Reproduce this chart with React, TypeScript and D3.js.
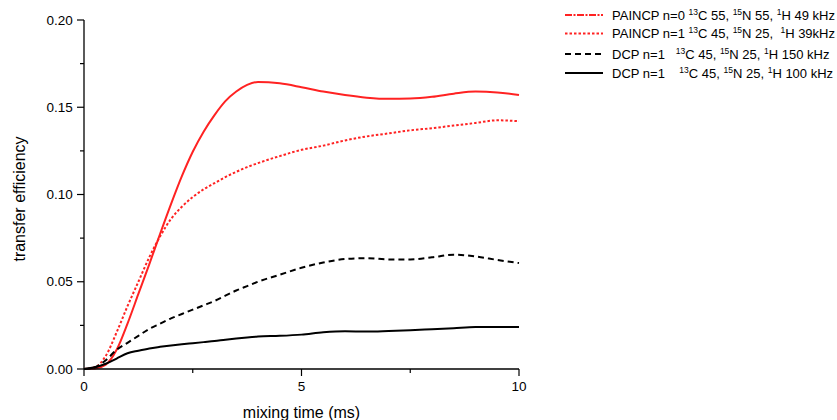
import React from 'react';
import * as d3 from 'd3';

// mixing time grid (ms)
const mixingTime = [0, 0.25, 0.5, 0.75, 1, 1.25, 1.5, 1.75, 2, 2.25, 2.5, 2.75, 3, 3.25, 3.5, 3.75, 4, 4.5, 5, 5.5, 6, 6.5, 7, 7.5, 8, 8.5, 9, 9.5, 10];

const painN0 = [0, 0.0003, 0.0025, 0.011, 0.026, 0.043, 0.06, 0.0775, 0.0945, 0.1105, 0.1245, 0.136, 0.1455, 0.1535, 0.159, 0.1628, 0.1645, 0.1637, 0.1615, 0.159, 0.157, 0.1555, 0.1548, 0.155, 0.156, 0.1578, 0.159, 0.1585, 0.157];
const painN1 = [0, 0.001, 0.0075, 0.021, 0.036, 0.05, 0.064, 0.076, 0.086, 0.093, 0.0985, 0.103, 0.1065, 0.11, 0.113, 0.1157, 0.118, 0.122, 0.1256, 0.128, 0.131, 0.1333, 0.135, 0.1368, 0.138, 0.1395, 0.141, 0.1425, 0.142];
const dcp150 = [0, 0.001, 0.005, 0.011, 0.015, 0.019, 0.023, 0.026, 0.029, 0.0315, 0.034, 0.0365, 0.039, 0.042, 0.045, 0.0475, 0.05, 0.054, 0.058, 0.061, 0.063, 0.0635, 0.0628, 0.0628, 0.064, 0.0655, 0.0645, 0.0625, 0.0607];
const dcp100 = [0, 0.001, 0.003, 0.006, 0.009, 0.0105, 0.0118, 0.0127, 0.0135, 0.0142, 0.0148, 0.0154, 0.016, 0.0168, 0.0175, 0.0181, 0.0186, 0.019, 0.0197, 0.021, 0.0216, 0.0215, 0.0218, 0.0222, 0.0228, 0.0234, 0.024, 0.0241, 0.024];

const xTicks = [0, 5, 10];
const xMinor = [2.5, 7.5];
const yTicks = [0, 0.05, 0.1, 0.15, 0.2];
const yMinor = [0.025, 0.075, 0.125, 0.175];

const RED = '#ff2222';

const series = [
  { values: painN0, color: RED, dash: null, legendDash: '7 1.5 2 1.5',
    label: [['PAINCP n=0 ', false], ['13', true], ['C 55, ', false], ['15', true], ['N 55, ', false], ['1', true], ['H 49 kHz', false]] },
  { values: painN1, color: RED, dash: '2.5 2', legendDash: '2.5 2',
    label: [['PAINCP n=1 ', false], ['13', true], ['C 45, ', false], ['15', true], ['N 25,  ', false], ['1', true], ['H 39kHz', false]] },
  { values: dcp150, color: '#000', dash: '6 4', legendDash: '6 4',
    label: [['DCP n=1   ', false], ['13', true], ['C 45, ', false], ['15', true], ['N 25, ', false], ['1', true], ['H 150 kHz', false]] },
  { values: dcp100, color: '#000', dash: null, legendDash: null,
    label: [['DCP n=1    ', false], ['13', true], ['C 45, ', false], ['15', true], ['N 25, ', false], ['1', true], ['H 100 kHz', false]] },
];

export default function App() {
  const width = 837;
  const height = 420;
  const x0 = 84, x1 = 519, yTop = 20, yBot = 369;

  const xScale = d3.scaleLinear().domain([0, 10]).range([x0, x1]);
  const yScale = d3.scaleLinear().domain([0, 0.2]).range([yBot, yTop]);

  const line = d3.line<number>()
    .x((d, i) => xScale(mixingTime[i]))
    .y(d => yScale(d))
    .curve(d3.curveMonotoneX);

  const font = 'Liberation Sans, Arial, sans-serif';

  return (
    <svg width={width} height={height} style={{ position: 'absolute', left: 0, top: 0 }} fontFamily={font}>
      <rect width={width} height={height} fill="#fff" />

      {/* curves */}
      {series.map((s, i) => (
        <path key={i} d={line(s.values) || ''} fill="none" stroke={s.color}
          strokeWidth={2} strokeDasharray={s.dash || undefined} />
      ))}

      {/* axes */}
      <line x1={x0} x2={x0} y1={yTop} y2={yBot} stroke="#000" strokeWidth={1.3} />
      <line x1={x0} x2={x1} y1={yBot} y2={yBot} stroke="#000" strokeWidth={1.3} />
      {yTicks.map(t => (
        <g key={'y' + t}>
          <line x1={x0 - 7} x2={x0} y1={yScale(t)} y2={yScale(t)} stroke="#000" strokeWidth={1.2} />
          <text x={x0 - 11.3} y={yScale(t)} dy="0.35em" textAnchor="end" fontSize={13.5}>{t.toFixed(2)}</text>
        </g>
      ))}
      {yMinor.map(t => (
        <line key={'ym' + t} x1={x0 - 4} x2={x0} y1={yScale(t)} y2={yScale(t)} stroke="#000" strokeWidth={1.2} />
      ))}
      {xTicks.map(t => (
        <g key={'x' + t}>
          <line x1={xScale(t)} x2={xScale(t)} y1={yBot} y2={yBot + 7} stroke="#000" strokeWidth={1.2} />
          <text x={xScale(t)} y={390.5} textAnchor="middle" fontSize={13.5}>{t}</text>
        </g>
      ))}
      {xMinor.map(t => (
        <line key={'xm' + t} x1={xScale(t)} x2={xScale(t)} y1={yBot} y2={yBot + 4} stroke="#000" strokeWidth={1.2} />
      ))}

      <text x={xScale(5)} y={418} textAnchor="middle" fontSize={16}>mixing time (ms)</text>
      <text transform={`translate(25,199) rotate(-90)`} textAnchor="middle" fontSize={16}>transfer efficiency</text>

      {/* legend */}
      {series.map((s, i) => {
        const ly = [15, 33.5, 54, 73][i];
        return (
          <g key={'lg' + i}>
            <line x1={565} x2={603} y1={ly} y2={ly} stroke={s.color} strokeWidth={2}
              strokeDasharray={s.legendDash || undefined} />
            <text x={612} y={ly} dy="0.35em" fontSize={13} style={{ whiteSpace: 'pre' }}>
              {s.label.map((p, j) => p[1]
                ? <tspan key={j} fontSize={8.5} baselineShift="super">{p[0] as string}</tspan>
                : <tspan key={j}>{p[0] as string}</tspan>)}
            </text>
          </g>
        );
      })}
    </svg>
  );
}
